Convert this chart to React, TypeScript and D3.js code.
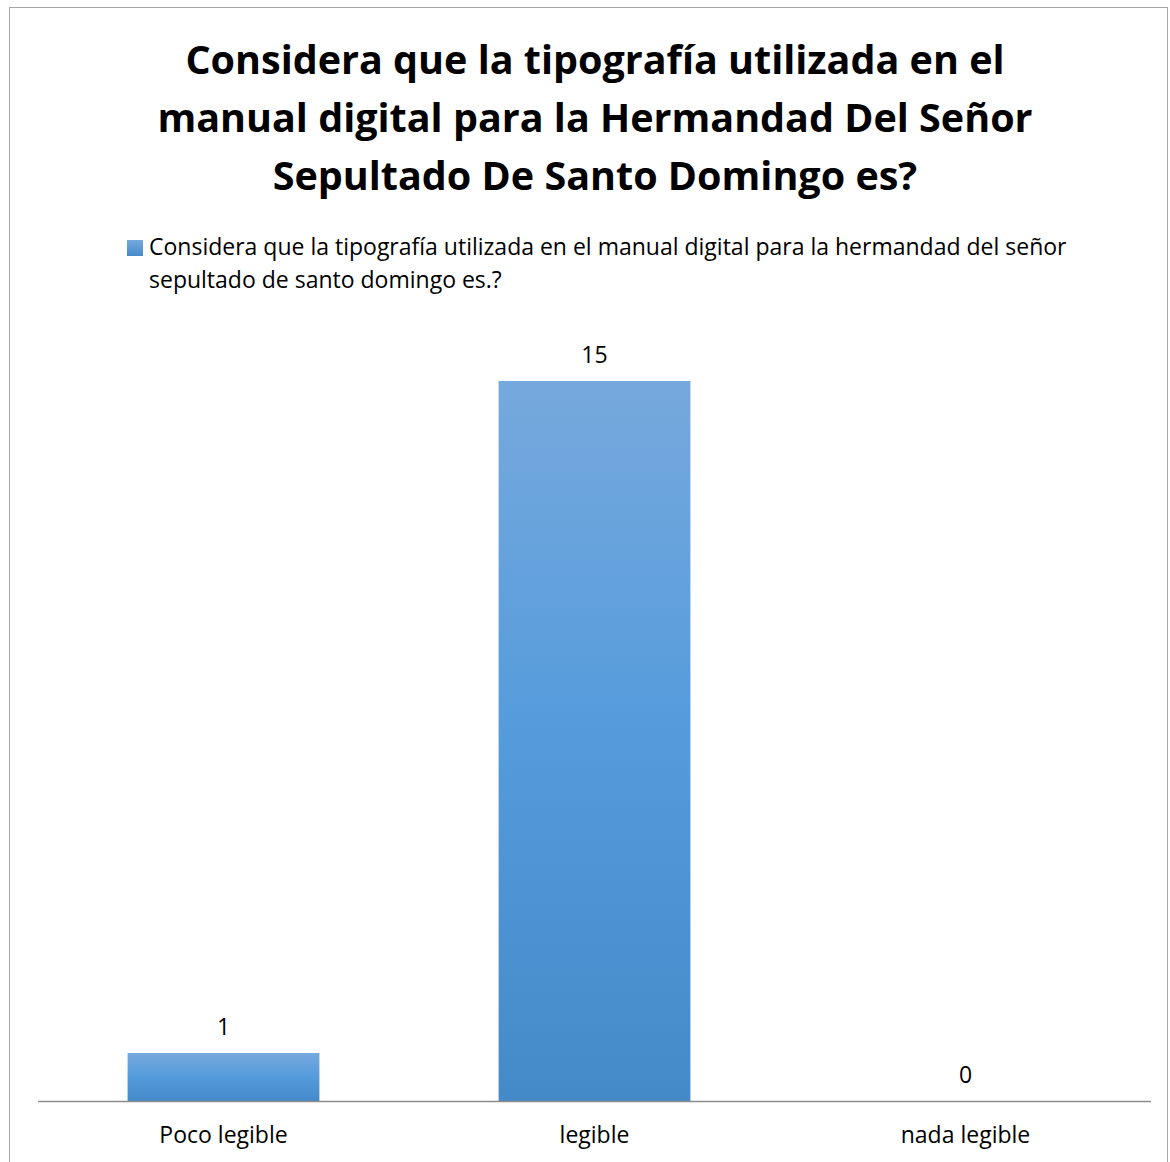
import React from "react";
import * as d3 from "d3";

const titleLines = [
  "Considera que la tipografía utilizada en el",
  "manual digital para la Hermandad Del Señor",
  "Sepultado De Santo Domingo es?",
];
const legendLines = [
  "Considera que la tipografía utilizada en el manual digital para la hermandad del señor",
  "sepultado de santo domingo es.?",
];
const categories = ["Poco legible", "legible", "nada legible"];
const values = [1, 15, 0];

const W = 1170;
const H = 1162;
const FONT = "'Open Sans', sans-serif";

export default function App() {
  const plotLeft = 38;
  const plotRight = 1151;
  const baseY = 1101;
  const x = d3.scaleBand<string>().domain(categories).range([plotLeft, plotRight]).paddingInner(0.483).paddingOuter(0.2415);
  const y = d3.scaleLinear().domain([0, 16]).range([baseY, baseY - 16 * 48]);
  return (
    <svg width={W} height={H} style={{ position: "absolute", left: 0, top: 0 }}>
      <defs>
        <linearGradient id="barGrad" x1="0" y1="0" x2="0" y2="1">
          <stop offset="0" stopColor="#76a9dd" />
          <stop offset="0.5" stopColor="#549bdc" />
          <stop offset="1" stopColor="#458ac8" />
        </linearGradient>
        <linearGradient id="legGrad" x1="0" y1="0" x2="0" y2="1">
          <stop offset="0" stopColor="#76a9dd" />
          <stop offset="1" stopColor="#458ac8" />
        </linearGradient>
      </defs>
      <rect x={0} y={0} width={W} height={H} fill="#fff" />
      <rect x={9.5} y={7.5} width={1158} height={1170} fill="#fff" stroke="#a6a6a6" strokeWidth={1} />
      {titleLines.map((t, i) => (
        <text key={i} x={595} y={74 + i * 58} textAnchor="middle" fontFamily={FONT} fontWeight="bold" fontSize={39.5} fill="#000">
          {t}
        </text>
      ))}
      <rect x={127} y={240} width={16} height={16} fill="url(#legGrad)" />
      {legendLines.map((t, i) => (
        <text key={i} x={149} y={255 + i * 33} fontFamily={FONT} fontSize={23} fill="#000">
          {t}
        </text>
      ))}
      {categories.map((c, i) => {
        const bx = x(c)!;
        const bw = x.bandwidth();
        const v = values[i];
        return (
          <g key={c}>
            {v > 0 && <rect x={bx} y={y(v)} width={bw} height={baseY - y(v)} fill="url(#barGrad)" />}
            <text x={bx + bw / 2} y={y(v) - 18} textAnchor="middle" fontFamily={FONT} fontSize={23} fill="#000">
              {v}
            </text>
            <text x={bx + bw / 2} y={1143} textAnchor="middle" fontFamily={FONT} fontSize={23} fill="#000">
              {c}
            </text>
          </g>
        );
      })}
      <line x1={plotLeft} x2={plotRight} y1={baseY + 0.5} y2={baseY + 0.5} stroke="#8c8c8c" strokeWidth={1.5} />
    </svg>
  );
}
